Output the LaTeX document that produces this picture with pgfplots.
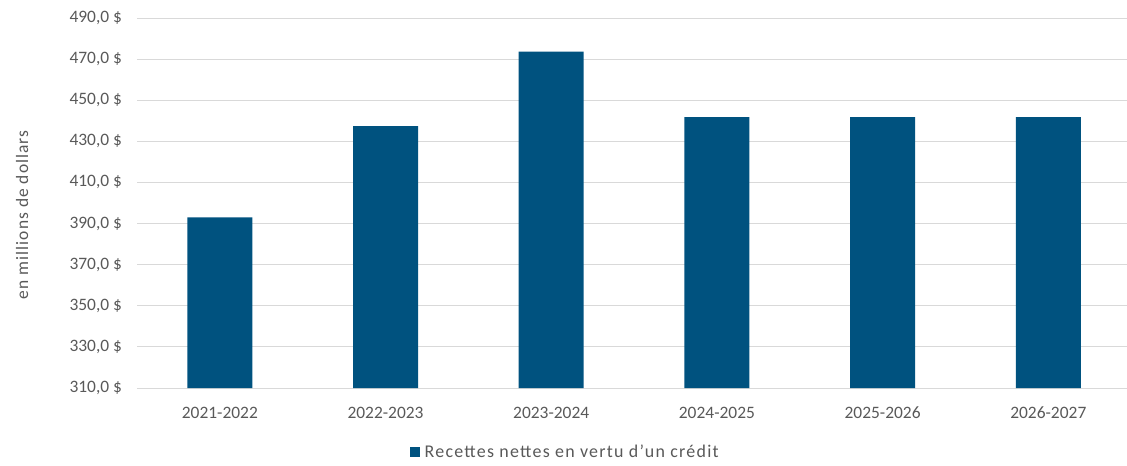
\documentclass[border=0pt]{standalone}
\usepackage{pgfplots}
\pgfplotsset{compat=1.18}
\usepackage{fontspec}
\setmainfont{Carlito}
\newfontfamily\legfont[LetterSpace=7]{Carlito}
\newfontfamily\ylabfont[LetterSpace=6]{Carlito}
\definecolor{barblue}{HTML}{00527F}
\definecolor{tickgray}{HTML}{595959}
\definecolor{gridgray}{HTML}{D9D9D9}
\begin{document}
\fontsize{17.5}{20}\selectfont
\begin{tikzpicture}
\path[use as bounding box] (0,0) rectangle (1127bp,466bp);
\begin{axis}[
  at={(137bp,78bp)}, anchor=south west,
  width=990bp, height=370bp, scale only axis,
  xmin=-0.5, xmax=5.475,
  ymin=310, ymax=490,
  axis line style={draw=none},
  axis x line*=bottom,
  ytick={310,330,...,490},
  yticklabels={{310,0 \$},{330,0 \$},{350,0 \$},{370,0 \$},{390,0 \$},{410,0 \$},{430,0 \$},{450,0 \$},{470,0 \$},{490,0 \$}},
  xtick={0,1,2,3,4,5},
  xticklabels={2021-2022,2022-2023,2023-2024,2024-2025,2025-2026,2026-2027},
  major tick length=0pt,
  ymajorgrids, grid style={gridgray, line width=0.9pt},
  tick label style={font=\fontsize{17.5}{20}\selectfont, text=tickgray},
  yticklabel style={xshift=-9bp},
  xticklabel style={yshift=-13bp},
  ylabel={en millions de dollars},
  ylabel style={font=\ylabfont\fontsize{17.5}{20}\selectfont, text=tickgray, at={(axis description cs:-0.116,0.468)}, anchor=center, rotate=0},
  legend style={at={(0.434,-0.173)}, anchor=center, draw=none, font=\legfont\fontsize{18}{20}\selectfont, text=tickgray, legend cell align=left, inner sep=0pt, nodes={inner xsep=4.5bp}},
  legend image code/.code={\fill[barblue] (0bp,-5bp) rectangle (10bp,5bp);},
  clip=false,
]
\addplot[ybar, bar width=65bp, fill=barblue, draw=none] coordinates {
  (0,393.0) (1,437.4) (2,473.6) (3,441.8) (4,441.8) (5,441.8)
};
\addlegendentry{Recettes nettes en vertu d’un crédit}
\end{axis}
\end{tikzpicture}
\end{document}
